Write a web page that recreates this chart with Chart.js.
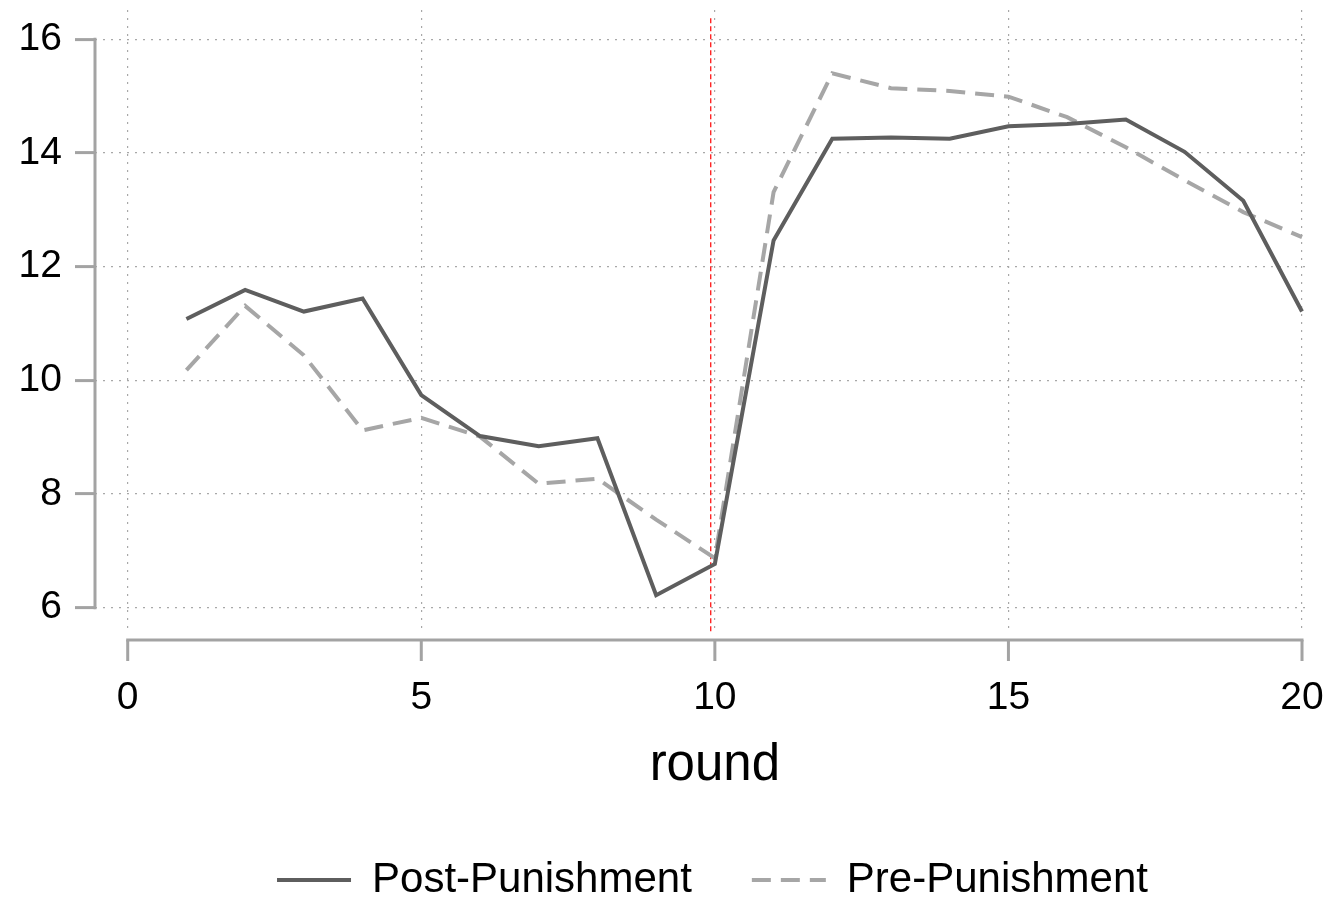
<!DOCTYPE html>
<html>
<head>
<meta charset="utf-8">
<script src="https://cdn.jsdelivr.net/npm/chart.js@4.4.1/dist/chart.umd.min.js"></script>
<style>
  html, body { margin: 0; padding: 0; background: #ffffff; }
  canvas { display: block; }
</style>
</head>
<body>
<canvas id="c" width="1332" height="900"></canvas>
<script>
// ---- data ----
const rounds = [1, 2, 3, 4, 5, 6, 7, 8, 9, 10, 11, 12, 13, 14, 15, 16, 17, 18, 19, 20];
const postPunishment = [11.08, 11.59, 11.21, 11.44, 9.74, 9.02, 8.84, 8.98, 6.22, 6.77,
                        12.46, 14.25, 14.27, 14.25, 14.47, 14.51, 14.59, 14.02, 13.16, 11.21];
const prePunishment  = [10.18, 11.31, 10.44, 9.12, 9.34, 9.01, 8.18, 8.27, 7.55, 6.87,
                        13.31, 15.40, 15.14, 15.09, 14.99, 14.63, 14.10, 13.52, 12.96, 12.52];
const seriesNames = ['Post-Punishment', 'Pre-Punishment'];
const xTickValues = [0, 5, 10, 15, 20];
const yTickValues = [6, 8, 10, 12, 14, 16];
const xAxisTitle = 'round';
const refLineRound = 9.93;
const refLineTop = 16.37;

const FONT = '"Liberation Sans", Arial, Helvetica, sans-serif';
const AXIS_GREY = '#a3a3a3';

const toPoints = (vals) => rounds.map((r, i) => ({ x: r, y: vals[i] }));

const stataAxes = {
  id: 'stataAxes',
  afterLayout(chart) {
    if (chart.legend) { chart.legend.left += 10; chart.legend.right += 10; }
  },
  beforeDatasetsDraw(chart) {
    const { ctx, chartArea, scales: { x, y } } = chart;
    const px = x.getPixelForValue(refLineRound);
    ctx.save();
    ctx.strokeStyle = '#ff0000';
    ctx.lineWidth = 1.2;
    ctx.setLineDash([5, 3]);
    ctx.beginPath();
    ctx.moveTo(px, y.getPixelForValue(refLineTop));
    ctx.lineTo(px, chartArea.bottom);
    ctx.stroke();
    ctx.restore();
  },
  afterDraw(chart) {
    const { ctx, chartArea, scales: { x, y } } = chart;
    ctx.save();
    ctx.strokeStyle = AXIS_GREY;
    ctx.lineWidth = 3;
    ctx.setLineDash([]);
    ctx.lineCap = 'butt';
    const ax = chartArea.left;
    ctx.beginPath();
    ctx.moveTo(ax, y.getPixelForValue(yTickValues[0]) + 1.5);
    ctx.lineTo(ax, y.getPixelForValue(yTickValues[yTickValues.length - 1]) - 1.5);
    ctx.stroke();
    const ay = chartArea.bottom + 7;
    ctx.beginPath();
    ctx.moveTo(x.getPixelForValue(xTickValues[0]) - 1.5, ay);
    ctx.lineTo(x.getPixelForValue(xTickValues[xTickValues.length - 1]) + 1.5, ay);
    ctx.stroke();
    xTickValues.forEach(v => {
      const p = x.getPixelForValue(v);
      ctx.beginPath();
      ctx.moveTo(p, ay);
      ctx.lineTo(p, ay + 21);
      ctx.stroke();
    });
    // axis title centred on the drawn x axis
    const midX = (x.getPixelForValue(xTickValues[0]) + x.getPixelForValue(xTickValues[xTickValues.length - 1])) / 2;
    ctx.fillStyle = '#000000';
    ctx.font = '51px ' + FONT;
    ctx.textAlign = 'center';
    ctx.textBaseline = 'alphabetic';
    ctx.fillText(xAxisTitle, midX, x.bottom - 19);
    ctx.restore();
  }
};

new Chart(document.getElementById('c'), {
  type: 'line',
  data: {
    datasets: [
      {
        label: seriesNames[0],
        data: toPoints(postPunishment),
        borderColor: '#5e5e5e',
        backgroundColor: '#5e5e5e',
        borderWidth: 4,
        pointRadius: 0,
        tension: 0,
        fill: false
      },
      {
        label: seriesNames[1],
        data: toPoints(prePunishment),
        borderColor: '#a6a6a6',
        backgroundColor: '#a6a6a6',
        borderWidth: 4,
        borderDash: [19, 10],
        pointRadius: 0,
        tension: 0,
        fill: false
      }
    ]
  },
  options: {
    responsive: false,
    animation: false,
    devicePixelRatio: 1,
    layout: { padding: { top: 10, right: 22, bottom: -11, left: 0 } },
    plugins: {
      tooltip: { enabled: false },
      legend: {
        position: 'bottom',
        fullSize: false,
        labels: {
          usePointStyle: true,
          pointStyle: 'line',
          pointStyleWidth: 74,
          padding: 60,
          color: '#000000',
          font: { family: FONT, size: 42 },
          generateLabels: (chart) => {
            const base = Chart.defaults.plugins.legend.labels.generateLabels(chart);
            return base.map((item, i) => {
              const ds = chart.data.datasets[item.datasetIndex !== undefined ? item.datasetIndex : i];
              return Object.assign({}, item, {
                strokeStyle: ds.borderColor,
                fillStyle: ds.borderColor,
                lineWidth: ds.borderWidth,
                lineDash: ds.borderDash || [],
                pointStyle: 'line'
              });
            });
          }
        }
      }
    },
    scales: {
      x: {
        type: 'linear',
        min: -0.557,
        max: 20.136,
        afterBuildTicks: (scale) => { scale.ticks = xTickValues.map(v => ({ value: v })); },
        afterFit: (scale) => {
          scale.height = 166;
          scale.paddingLeft = 0; scale.paddingRight = 0;
        },
        grid: {
          color: '#a8a8a8',
          lineWidth: 1.2,
          drawTicks: false,
          tickBorderDash: []
        },
        border: { display: false, dash: [2, 6] },
        ticks: {
          color: '#000000',
          padding: 42,
          maxRotation: 0,
          autoSkip: false,
          font: { family: FONT, size: 39 },
          callback: (v) => String(v)
        },
        title: { display: false }
      },
      y: {
        type: 'linear',
        min: 5.555,
        max: 16.515,
        afterBuildTicks: (scale) => { scale.ticks = yTickValues.map(v => ({ value: v })); },
        afterFit: (scale) => {
          scale.width = 95;
          scale.paddingTop = 0; scale.paddingBottom = 0;
        },
        grid: {
          color: '#a8a8a8',
          lineWidth: 1.2,
          drawTicks: true,
          tickLength: 20,
          tickWidth: 3,
          tickColor: AXIS_GREY,
          tickBorderDash: []
        },
        border: { display: false, dash: [2, 6] },
        ticks: {
          color: '#000000',
          padding: 13,
          autoSkip: false,
          font: { family: FONT, size: 39 },
          callback: (v) => String(v)
        }
      }
    }
  },
  plugins: [stataAxes]
});
</script>
</body>
</html>
